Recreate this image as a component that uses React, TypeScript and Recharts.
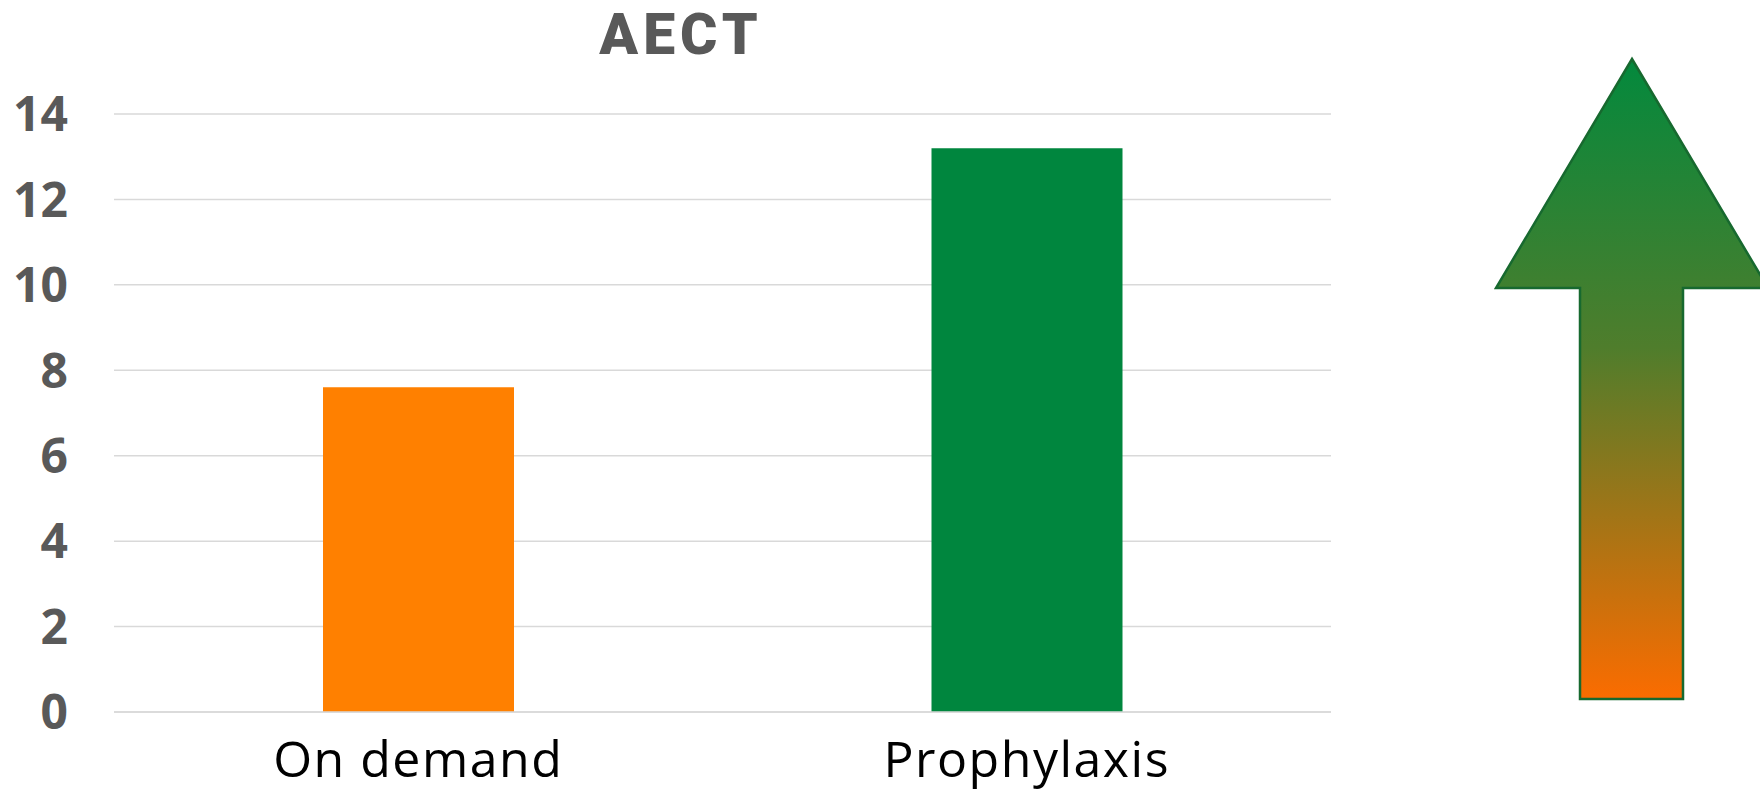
import { BarChart, Bar, XAxis, YAxis, CartesianGrid, Cell } from "recharts";

// ---------------------------------------------------------------------------
// Data
// ---------------------------------------------------------------------------

const CATEGORIES = ["On demand", "Prophylaxis"];
const AECT_VALUES = [7.6, 13.2];
const BAR_COLORS = ["#ff8000", "#00863e"];
const Y_TICKS = [0, 2, 4, 6, 8, 10, 12, 14];

const chartData = CATEGORIES.map((name, i) => ({ name, value: AECT_VALUES[i] }));

const INK = "#595959";
const FONT = "'Open Sans', 'Noto Sans', sans-serif";

// ---------------------------------------------------------------------------
// Ticks
// ---------------------------------------------------------------------------

function CategoryTick({ x, y, payload }: any) {
  return (
    <text
      x={x}
      y={y + 29}
      dy="0.72em"
      textAnchor="middle"
      fill="#000000"
      fontFamily={FONT}
      fontSize={50}
      letterSpacing={1.5}
    >
      {payload.value}
    </text>
  );
}

function ValueTick({ x, y, payload }: any) {
  return (
    <text
      x={x}
      y={y}
      dy="0.36em"
      textAnchor="end"
      fill={INK}
      fontFamily={FONT}
      fontWeight={700}
      fontSize={48}
    >
      {payload.value}
    </text>
  );
}

// ---------------------------------------------------------------------------
// Title + decorative up arrow on the right
// ---------------------------------------------------------------------------

function Overlay() {
  return (
    <svg
      width={1760}
      height={792}
      style={{ position: "absolute", left: 0, top: 0, pointerEvents: "none" }}
    >
      <defs>
        <linearGradient id="arrowFill" x1="0" y1="0" x2="0" y2="1">
          <stop offset="0%" stopColor="#03893d" />
          <stop offset="45%" stopColor="#4f7d2c" />
          <stop offset="100%" stopColor="#fb6c00" />
        </linearGradient>
      </defs>
      <text
        x={681}
        y={54}
        textAnchor="middle"
        fill={INK}
        fontFamily="Roboto, 'Open Sans', sans-serif"
        fontWeight={900}
        fontSize={57}
        letterSpacing={5}
      >
        AECT
      </text>
      <polygon
        points="1632,59 1768,288 1683,288 1683,699 1580,699 1580,288 1496,288"
        fill="url(#arrowFill)"
        stroke="#17692f"
        strokeWidth={2.5}
        strokeLinejoin="miter"
      />
    </svg>
  );
}

// ---------------------------------------------------------------------------
// Chart
// ---------------------------------------------------------------------------

export default function App() {
  return (
    <div
      style={{
        position: "absolute",
        left: 0,
        top: 0,
        width: 1760,
        height: 792,
        background: "#ffffff",
        overflow: "hidden",
      }}
    >
      <BarChart
        width={1760}
        height={792}
        data={chartData}
        margin={{ top: 114, right: 429, bottom: 50, left: 0 }}
      >
        <CartesianGrid vertical={false} stroke="#d9d9d9" strokeWidth={1.5} />
        <XAxis
          dataKey="name"
          height={30}
          axisLine={{ stroke: "#d9d9d9", strokeWidth: 1.5 }}
          tickLine={false}
          tickSize={0}
          tickMargin={0}
          tick={<CategoryTick />}
          interval={0}
        />
        <YAxis
          domain={[0, 14]}
          ticks={Y_TICKS}
          width={114}
          axisLine={false}
          tickLine={false}
          tickSize={0}
          tickMargin={46}
          tick={<ValueTick />}
        />
        <Bar dataKey="value" barSize={191} isAnimationActive={false}>
          {chartData.map((d, i) => (
            <Cell key={d.name} fill={BAR_COLORS[i]} />
          ))}
        </Bar>
      </BarChart>
      <Overlay />
    </div>
  );
}
